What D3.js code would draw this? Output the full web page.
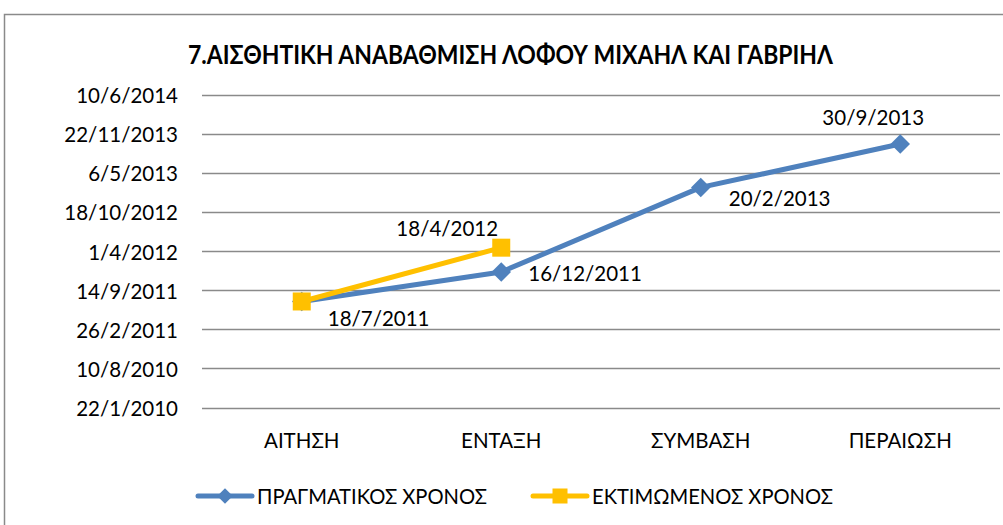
<!DOCTYPE html>
<html><head><meta charset="utf-8">
<script src="https://cdn.jsdelivr.net/npm/d3@7"></script>
<style>body{margin:0;background:#fff}svg{display:block}text{font-family:Lato,"Open Sans",sans-serif}</style>
</head><body><svg id="c" width="1003" height="525"></svg>
<script>
const title = "7.ΑΙΣΘΗΤΙΚΗ ΑΝΑΒΑΘΜΙΣΗ ΛΟΦΟΥ ΜΙΧΑΗΛ ΚΑΙ ΓΑΒΡΙΗΛ";
const categories = ["ΑΙΤΗΣΗ", "ΕΝΤΑΞΗ", "ΣΥΜΒΑΣΗ", "ΠΕΡΑΙΩΣΗ"];
const actualName = "ΠΡΑΓΜΑΤΙΚΟΣ ΧΡΟΝΟΣ";
const estimatedName = "ΕΚΤΙΜΩΜΕΝΟΣ ΧΡΟΝΟΣ";
const actualDates = ["18/7/2011", "16/12/2011", "20/2/2013", "30/9/2013"];
const estimatedDates = ["18/7/2011", "18/4/2012"];
const yTickLabels = ["22/1/2010","10/8/2010","26/2/2011","14/9/2011","1/4/2012","18/10/2012","6/5/2013","22/11/2013","10/6/2014"];

const parse = s => { const [d,m,y] = s.split("/").map(Number); return Date.UTC(y,m-1,d); };
const FS = 20.5;

const svg = d3.select("#c");
svg.append("rect").attr("x",4.5).attr("y",14.5).attr("width",1010).attr("height",520)
  .attr("fill","#fff").attr("stroke","#8a8a8a").attr("stroke-width",1.5);

svg.append("text").attr("x",510.5).attr("y",53).attr("text-anchor","middle").attr("dominant-baseline","central")
  .attr("font-size",27).attr("font-weight","bold").attr("fill","#000")
  .attr("textLength",645).attr("lengthAdjust","spacingAndGlyphs").text(title);

const x = d3.scaleBand().domain(categories).range([202,1000]);
const y = d3.scaleLinear().domain([parse(yTickLabels[0]), parse(yTickLabels[yTickLabels.length-1])]).range([407.5,94.5]);

const yTicks = yTickLabels.map(parse);
svg.append("g").selectAll("line").data(yTicks).join("line")
  .attr("x1",202).attr("x2",1000).attr("y1",d=>Math.round(y(d))+0.5).attr("y2",d=>Math.round(y(d))+0.5)
  .attr("stroke","#8a8a8a").attr("stroke-width",1.3);

const yAxis = d3.axisLeft(y).tickValues(yTicks).tickSize(0).tickPadding(0)
  .tickFormat((d,i)=>yTickLabels[i]);
const gy = svg.append("g").attr("transform","translate(178,0)").call(yAxis);
gy.select(".domain").remove();
gy.selectAll("text").attr("font-size",FS).attr("fill","#000").attr("font-family","Lato")
  .attr("dy",null).attr("dominant-baseline","central");

const xAxis = d3.axisBottom(x).tickSize(0).tickPadding(0);
const gx = svg.append("g").attr("transform","translate(0,439.5)").call(xAxis);
gx.select(".domain").remove();
gx.selectAll("text").attr("font-size",FS).attr("fill","#000").attr("font-family","Lato")
  .attr("dy",null).attr("dominant-baseline","central");

const cx = i => x(categories[i]) + x.bandwidth()/2;
const blue = "#4F81BD", gold = "#FFC000";
const line = d3.line().x((d,i)=>cx(i)).y(d=>y(parse(d)));

svg.append("path").datum(actualDates).attr("d",line).attr("fill","none")
  .attr("stroke",blue).attr("stroke-width",5).attr("stroke-linejoin","round").attr("stroke-linecap","round");
svg.append("g").selectAll("path").data(actualDates).join("path")
  .attr("d", d3.symbol().type(d3.symbolSquare).size(190))
  .attr("transform",(d,i)=>`translate(${cx(i)},${y(parse(d))}) rotate(45)`).attr("fill",blue);

svg.append("path").datum(estimatedDates).attr("d",line).attr("fill","none")
  .attr("stroke",gold).attr("stroke-width",5).attr("stroke-linejoin","round").attr("stroke-linecap","round");
svg.append("g").selectAll("rect").data(estimatedDates).join("rect")
  .attr("x",(d,i)=>cx(i)-9).attr("y",d=>y(parse(d))-9).attr("width",18).attr("height",18).attr("fill",gold);

// data labels: [dx, dy, anchor] relative to the point
const actualLabelOffset = [[26,17,"start"],[27,1,"start"],[28,11,"start"],[-27,-27,"middle"]];
const estimatedLabelOffset = [null,[-54,-20,"middle"]];
svg.append("g").selectAll("text").data(actualDates).join("text")
  .attr("x",(d,i)=>cx(i)+actualLabelOffset[i][0]).attr("y",(d,i)=>y(parse(d))+actualLabelOffset[i][1])
  .attr("text-anchor",(d,i)=>actualLabelOffset[i][2]).attr("dominant-baseline","central")
  .attr("font-size",FS).text(d=>d);
svg.append("g").selectAll("text").data(estimatedDates.map((d,i)=>[d,i]).filter(p=>estimatedLabelOffset[p[1]])).join("text")
  .attr("x",p=>cx(p[1])+estimatedLabelOffset[p[1]][0]).attr("y",p=>y(parse(p[0]))+estimatedLabelOffset[p[1]][1])
  .attr("text-anchor","middle").attr("dominant-baseline","central").attr("font-size",FS).text(p=>p[0]);

// legend
const lg = svg.append("g");
const legend = [[actualName, blue, "diamond", 198, 257, 230],[estimatedName, gold, "square", 533, 592, 241]];
legend.forEach(([name,col,shape,x0,tx,tw])=>{
  lg.append("line").attr("x1",x0).attr("x2",x0+54).attr("y1",496).attr("y2",496)
    .attr("stroke",col).attr("stroke-width",5).attr("stroke-linecap","round");
  if(shape==="diamond") lg.append("path").attr("d",d3.symbol().type(d3.symbolSquare).size(120)())
    .attr("transform",`translate(${x0+27},496) rotate(45)`).attr("fill",col);
  else lg.append("rect").attr("x",x0+27-7.5).attr("y",488.5).attr("width",15).attr("height",15).attr("fill",col);
  lg.append("text").attr("x",tx).attr("y",496).attr("dominant-baseline","central").attr("font-size",FS)
    .attr("textLength",tw).attr("lengthAdjust","spacingAndGlyphs").text(name);
});
</script></body></html>
